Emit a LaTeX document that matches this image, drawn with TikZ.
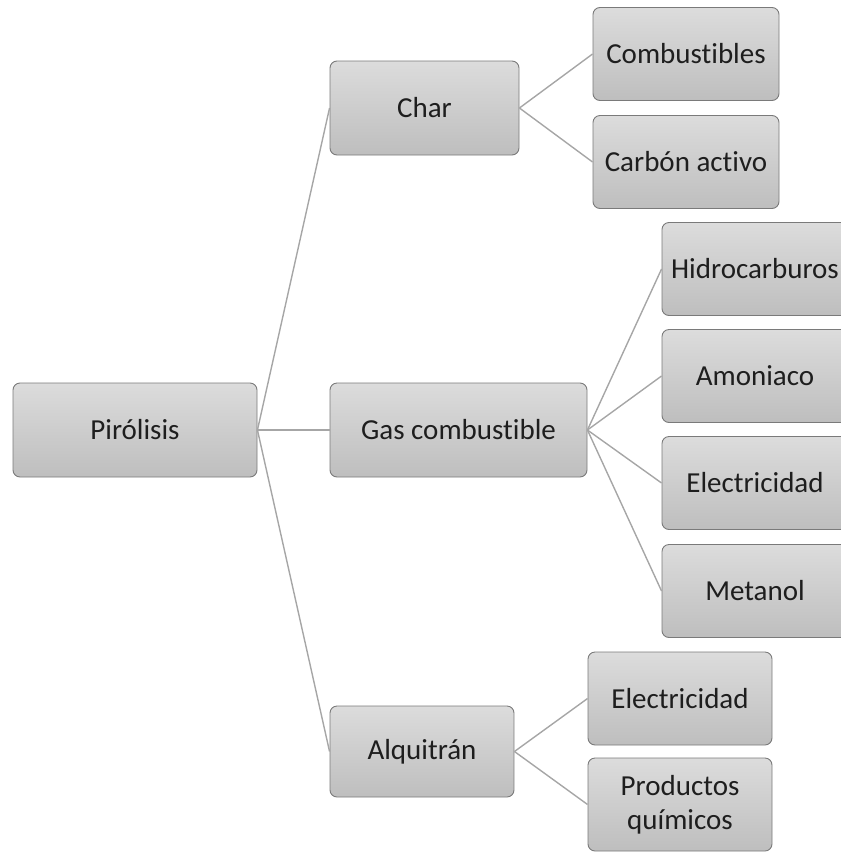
\documentclass[tikz,border=0pt]{standalone}
\usepackage{fontspec}
\setmainfont{Carlito}[Ligatures=NoCommon]
\definecolor{boxtop}{HTML}{DCDCDC}
\definecolor{boxbot}{HTML}{BEBEBE}
\definecolor{boxedge}{HTML}{7A7A7A}
\definecolor{linkgray}{HTML}{A6A6A6}
\definecolor{ink}{HTML}{1E1E1E}
\begin{document}
\begin{tikzpicture}[x=1pt,y=-1pt,
  box/.style={draw=boxedge, line width=0.9pt, rounded corners=7pt,
    top color=boxtop, bottom color=boxbot, text=ink, align=center,
    inner sep=0pt, font=\fontsize{29}{34}\selectfont},
  leaf/.style={box, minimum width=186pt, minimum height=93pt},
  link/.style={draw=linkgray, line width=1.4pt}]
\useasboundingbox (0,0) rectangle (841,852);
\clip (0,0) rectangle (841,852);

% root and first level
\node[box, minimum width=244pt, minimum height=94pt] (root) at (135,430) {Pirólisis};
\node[box, minimum width=189pt, minimum height=94pt] (char) at (424.5,108) {Char};
\node[box, minimum width=257pt, minimum height=94pt] (gas) at (458.5,430) {Gas combustible};
\node[box, minimum width=184pt, minimum height=91pt] (tar) at (422,751.5) {Alquitrán};

% products of char
\node[leaf] (fuel) at (686,54) {Combustibles};
\node[leaf] (carbon) at (686,162) {Carbón activo};

% products of gas
\node[leaf] (hydro) at (755,269) {Hidrocarburos};
\node[leaf] (ammonia) at (755,376) {Amoniaco};
\node[leaf] (elecgas) at (755,483) {Electricidad};
\node[leaf] (methanol) at (755,591) {Metanol};

% products of tar
\node[leaf, minimum width=184pt] (electar) at (680,698.5) {Electricidad};
\node[leaf, minimum width=184pt] (chem) at (680,804.5) {Productos\\químicos};

% connectors
\draw[link] (root.east) -- (char.west);
\draw[link] (root.east) -- (gas.west);
\draw[link] (root.east) -- (tar.west);
\draw[link] (char.east) -- (fuel.west);
\draw[link] (char.east) -- (carbon.west);
\draw[link] (gas.east) -- (hydro.west);
\draw[link] (gas.east) -- (ammonia.west);
\draw[link] (gas.east) -- (elecgas.west);
\draw[link] (gas.east) -- (methanol.west);
\draw[link] (tar.east) -- (electar.west);
\draw[link] (tar.east) -- (chem.west);
\end{tikzpicture}
\end{document}
